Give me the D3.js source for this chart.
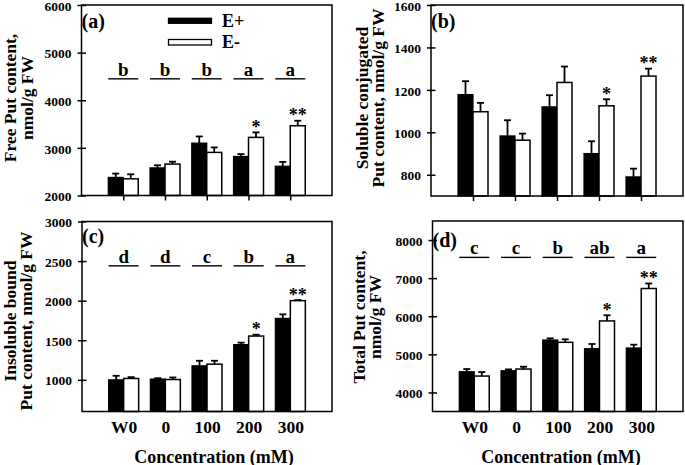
<!DOCTYPE html>
<html>
<head>
<meta charset="utf-8">
<script src="https://cdn.jsdelivr.net/npm/d3@7"></script>
<style>
  html, body { margin: 0; padding: 0; background: #fff; }
  svg { display: block; }
  svg text { font-family: "Liberation Serif", "DejaVu Serif", serif; font-weight: bold; fill: #000; }
</style>
</head>
<body>
<svg id="chart" width="685" height="465"></svg>
<script>
// ---------------- DATA ----------------
const categories = ["W0", "0", "100", "200", "300"];
const seriesNames = ["E+", "E-"];

// (a) Free Put content
const freeEplus      = [2380, 2580, 3100, 2820, 2615];
const freeEplusErr   = [80, 55, 140, 50, 90];
const freeEminus     = [2350, 2660, 2905, 3220, 3465];
const freeEminusErr  = [95, 50, 105, 105, 105];
const freeLetters    = ["b", "b", "b", "a", "a"];
const freeTicks      = [2000, 3000, 4000, 5000, 6000];

// (b) Soluble conjugated Put content
const conjEplus      = [1178, 983, 1120, 900, 790];
const conjEplusErr   = [63, 74, 55, 58, 39];
const conjEminus     = [1097, 963, 1235, 1125, 1265];
const conjEminusErr  = [42, 31, 75, 31, 35];
const conjLetters    = ["", "", "", "", ""];
const conjTicks      = [800, 1000, 1200, 1400, 1600];

// (c) Insoluble bound Put content
const boundEplus     = [1000, 1010, 1177, 1445, 1776];
const boundEplusErr  = [51, 11, 64, 25, 51];
const boundEminus    = [1017, 1004, 1198, 1553, 2000];
const boundEminusErr = [17, 26, 43, 17, 8];
const boundLetters   = ["d", "d", "c", "b", "a"];
const boundTicks     = [1000, 1500, 2000, 2500, 3000];

// (d) Total Put content
const totalEplus     = [4544, 4570, 5377, 5149, 5167];
const totalEplusErr  = [70, 35, 44, 123, 87];
const totalEminus    = [4430, 4614, 5316, 5877, 6728];
const totalEminusErr = [105, 61, 79, 149, 132];
const totalLetters   = ["c", "c", "b", "ab", "a"];
const totalTicks     = [4000, 5000, 6000, 7000, 8000];

// significance marks on the E- bars
const stars = ["", "", "", "*", "**"];

// ---------------- LAYOUT ----------------
const panels = [
  { tag: "(a)", plus: freeEplus, plusErr: freeEplusErr, minus: freeEminus, minusErr: freeEminusErr,
    letters: freeLetters, letterLevel: 4450, ticks: freeTicks, domain: [2000, 6000],
    title: ["Free Put content,", "nmol/g FW"], titleX: [15.5, 32.5], titleY: 98,
    box: { l: 81.5, r: 332, t: 5, b: 195.5 }, tagDy: 22.5, xTicks: true, xLabels: false, legend: true },
  { tag: "(b)", plus: conjEplus, plusErr: conjEplusErr, minus: conjEminus, minusErr: conjEminusErr,
    letters: conjLetters, letterLevel: null, ticks: conjTicks, domain: [700, 1600],
    title: ["Soluble conjugated", "Put content, nmol/g FW"], titleX: [368, 384], titleY: 98,
    box: { l: 431, r: 683, t: 5, b: 196 }, tagDy: 23, xTicks: true, xLabels: false, legend: false },
  { tag: "(c)", plus: boundEplus, plusErr: boundEplusErr, minus: boundEminus, minusErr: boundEminusErr,
    letters: boundLetters, letterLevel: 2440, ticks: boundTicks, domain: [600, 3000],
    title: ["Insoluble bound", "Put content, nmol/g FW"], titleX: [15.5, 31.5], titleY: 321,
    box: { l: 82, r: 332, t: 221.5, b: 411.5 }, tagDy: 21.5, xTicks: false, xLabels: true, legend: false,
    xTitleX: 214 },
  { tag: "(d)", plus: totalEplus, plusErr: totalEplusErr, minus: totalEminus, minusErr: totalEminusErr,
    letters: totalLetters, letterLevel: 7545, ticks: totalTicks, domain: [3500, 8500],
    title: ["Total Put content,", "nmol/g FW"], titleX: [365, 380.5], titleY: 317,
    box: { l: 432.5, r: 683, t: 221, b: 411.5 }, tagDy: 25.5, xTicks: false, xLabels: true, legend: false,
    xTitleX: 561 }
];

const svg = d3.select("#chart");
const barW = 15;

panels.forEach(p => {
  const B = p.box;
  const g = svg.append("g");

  const x = d3.scalePoint().domain(categories).range([B.l, B.r]).padding(1);
  const y = d3.scaleLinear().domain(p.domain).range([B.b, B.t]);

  const rows = categories.map((c, i) => ({
    c, i,
    plus: p.plus[i], plusErr: p.plusErr[i],
    minus: p.minus[i], minusErr: p.minusErr[i]
  }));

  // E+ bars (black)
  g.selectAll(".bp").data(rows).join("rect")
    .attr("x", d => x(d.c) - barW)
    .attr("y", d => y(d.plus))
    .attr("width", barW)
    .attr("height", d => y(p.domain[0]) - y(d.plus))
    .attr("fill", "#000").attr("stroke", "#000").attr("stroke-width", 1.2);

  // E- bars (white)
  g.selectAll(".bm").data(rows).join("rect")
    .attr("x", d => x(d.c))
    .attr("y", d => y(d.minus))
    .attr("width", barW)
    .attr("height", d => y(p.domain[0]) - y(d.minus))
    .attr("fill", "#fff").attr("stroke", "#000").attr("stroke-width", 1.5);

  // error bars (upper only)
  const errs = [];
  rows.forEach(d => {
    errs.push({ cx: x(d.c) - barW / 2, v: d.plus, e: d.plusErr });
    errs.push({ cx: x(d.c) + barW / 2, v: d.minus, e: d.minusErr });
  });
  g.selectAll(".ev").data(errs).join("line")
    .attr("x1", d => d.cx).attr("x2", d => d.cx)
    .attr("y1", d => y(d.v)).attr("y2", d => y(d.v + d.e))
    .attr("stroke", "#000").attr("stroke-width", 1.8);
  g.selectAll(".ec").data(errs).join("line")
    .attr("x1", d => d.cx - 3.5).attr("x2", d => d.cx + 3.5)
    .attr("y1", d => y(d.v + d.e)).attr("y2", d => y(d.v + d.e))
    .attr("stroke", "#000").attr("stroke-width", 1.8);

  // stars
  g.selectAll(".st").data(rows).join("text")
    .attr("x", d => x(d.c) + barW / 2)
    .attr("y", d => y(d.minus + d.minusErr) + 0.5)
    .attr("text-anchor", "middle")
    .style("font-size", "18px")
    .text(d => stars[d.i]);

  // letters with underline
  if (p.letterLevel !== null) {
    const ly = y(p.letterLevel);
    g.selectAll(".ll").data(rows).join("line")
      .attr("x1", d => x(d.c) - barW).attr("x2", d => x(d.c) + barW)
      .attr("y1", ly).attr("y2", ly)
      .attr("stroke", "#000").attr("stroke-width", 1.4);
    g.selectAll(".lt").data(rows).join("text")
      .attr("x", d => x(d.c))
      .attr("y", ly - 3)
      .attr("text-anchor", "middle")
      .style("font-size", "19px")
      .text(d => p.letters[d.i]);
  }

  // frame
  g.append("rect")
    .attr("x", B.l).attr("y", B.t)
    .attr("width", B.r - B.l).attr("height", B.b - B.t)
    .attr("fill", "none").attr("stroke", "#000").attr("stroke-width", 1.5);

  // y axis
  const ya = g.append("g").attr("transform", `translate(${B.l},0)`)
    .call(d3.axisLeft(y).tickValues(p.ticks).tickSize(4).tickPadding(6).tickFormat(d3.format("d")));
  ya.attr("font-family", null).attr("font-size", null);
  ya.select(".domain").remove();
  ya.selectAll(".tick line").attr("x1", 4.5).attr("stroke-width", 1.5);
  ya.selectAll(".tick text").attr("dy", "0.38em").attr("fill", null).style("font-size", "13.5px");

  // x axis
  if (p.xTicks) {
    const xa = g.append("g").attr("transform", `translate(0,${B.b})`)
      .call(d3.axisBottom(x).tickSize(5).tickFormat(""));
    xa.select(".domain").remove();
    xa.selectAll(".tick line").attr("stroke-width", 1.5);
  }
  if (p.xLabels) {
    const xa = g.append("g").attr("transform", `translate(0,${B.b})`)
      .call(d3.axisBottom(x).tickSize(0).tickPadding(9.5));
    xa.attr("font-family", null).attr("font-size", null);
    xa.select(".domain").remove();
    xa.selectAll(".tick text").attr("fill", null).style("font-size", "17.5px");
    g.append("text")
      .attr("x", p.xTitleX).attr("y", 462.5)
      .attr("text-anchor", "middle")
      .style("font-size", "18px")
      .text("Concentration (mM)");
  }

  // y title (rotated, two lines)
  p.title.forEach((t, k) => {
    g.append("text")
      .attr("transform", `translate(${p.titleX[k]},${p.titleY}) rotate(-90)`)
      .attr("text-anchor", "middle")
      .style("font-size", "17.5px")
      .text(t);
  });

  // panel tag
  g.append("text")
    .attr("x", B.l).attr("y", B.t + p.tagDy)
    .style("font-size", "20px")
    .text(p.tag);

  // legend
  if (p.legend) {
    const lg = g.append("g");
    const items = [
      { name: seriesNames[0], fill: "#000", y0: 18.3, h: 5 },
      { name: seriesNames[1], fill: "#fff", y0: 39.5, h: 5.5 }
    ];
    items.forEach(it => {
      lg.append("rect").attr("x", 168.5).attr("y", it.y0).attr("width", 43).attr("height", it.h)
        .attr("fill", it.fill).attr("stroke", "#000").attr("stroke-width", 1.3);
      lg.append("text").attr("x", 222).attr("y", it.y0 + 8.5)
        .style("font-size", "18px")
        .text(it.name);
    });
  }
});
</script>
</body>
</html>
